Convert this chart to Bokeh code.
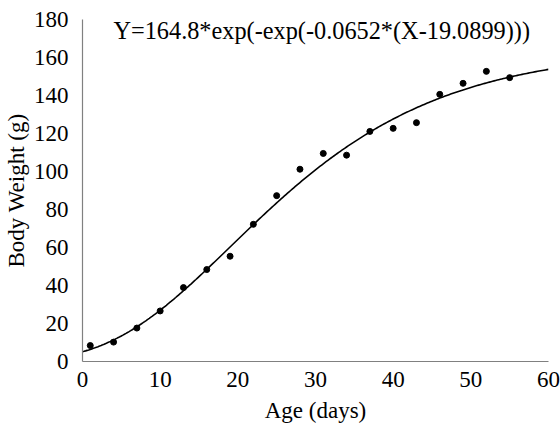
import numpy as np
from bokeh.plotting import figure
from bokeh.models import Range1d, Label, FixedTicker
from bokeh.embed import file_html
from bokeh.resources import INLINE

# observed data
age = [1, 4, 7, 10, 13, 16, 19, 22, 25, 28, 31, 34, 37, 40, 43, 46, 49, 52, 55]
weight = [8.4, 10.2, 17.6, 26.6, 38.9, 48.4, 55.4, 72.2, 87.3, 101.2, 109.5,
          108.6, 121.1, 122.7, 125.7, 140.6, 146.4, 152.7, 149.4]

# fitted Gompertz parameters shown on the chart
A = 164.8
k = 0.0652
t0 = 19.0899
equation = "Y=164.8*exp(-exp(-0.0652*(X-19.0899)))"

x_ticks = [0, 10, 20, 30, 40, 50, 60]
y_ticks = [0, 20, 40, 60, 80, 100, 120, 140, 160, 180]
x_label = "Age (days)"
y_label = "Body Weight (g)"

FONT = "Liberation Serif"
FS = "23px"

p = figure(width=560, height=434, output_backend="svg", toolbar_location=None,
           x_range=Range1d(0, 60), y_range=Range1d(0, 180),
           min_border_left=80, min_border_right=12, min_border_top=19,
           min_border_bottom=73)

p.grid.visible = False
p.outline_line_color = None
p.background_fill_color = "white"
p.border_fill_color = "white"

xs = np.linspace(0, 60, 301)
ys = A * np.exp(-np.exp(-k * (xs - t0)))
p.line(xs, ys, line_color="black", line_width=1.6)
p.scatter(age, weight, size=6, color="black")

for ax in (p.xaxis[0], p.yaxis[0]):
    ax.axis_line_color = "#808080"
    ax.axis_line_width = 1.2
    ax.major_tick_line_color = None
    ax.minor_tick_line_color = None
    ax.major_label_text_font = FONT
    ax.major_label_text_font_size = FS
    ax.major_label_text_color = "black"
    ax.axis_label_text_font = FONT
    ax.axis_label_text_font_size = FS
    ax.axis_label_text_font_style = "normal"
    ax.axis_label_text_color = "black"

p.xaxis.ticker = FixedTicker(ticks=x_ticks)
p.yaxis.ticker = FixedTicker(ticks=y_ticks)
p.xaxis.axis_label = x_label
p.yaxis.axis_label = y_label
p.xaxis.major_label_standoff = 4
p.xaxis.axis_label_standoff = 8
p.yaxis.major_label_standoff = 8
p.yaxis.axis_label_standoff = 2

p.add_layout(Label(x=30.8, y=174, text=equation, text_align="center",
                   text_baseline="alphabetic", text_font=FONT,
                   text_font_size="24.3px", text_color="black"))

open("out.html", "w").write(file_html(p, INLINE))
